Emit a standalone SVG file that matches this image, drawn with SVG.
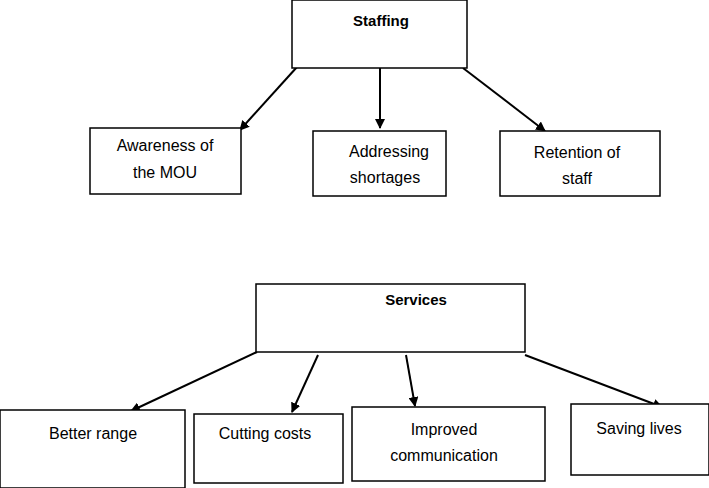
<svg xmlns="http://www.w3.org/2000/svg" width="709" height="488" viewBox="0 0 709 488">
<style>
.b{fill:#fff;stroke:#000;stroke-width:1.5}
.t{font-family:"Liberation Sans",Arial,sans-serif;font-size:16px;fill:#000;text-anchor:middle}
.h{font-weight:bold;font-size:15px}
.c{stroke:#000;stroke-width:2;fill:none;marker-end:url(#a)}
</style>
<defs><marker id="a" viewBox="0 0 10 10" refX="9" refY="5" markerWidth="5" markerHeight="5" orient="auto"><path d="M0,0L10,5L0,10z" fill="#000"/></marker></defs>
<rect width="709" height="488" fill="#fff"/>
<g id="connectors">
<line class="c" x1="297" y1="67" x2="240" y2="130"/>
<line class="c" x1="380" y1="68" x2="380" y2="128"/>
<line class="c" x1="463" y1="68" x2="545" y2="131"/>
<line class="c" x1="257" y1="352" x2="131" y2="411"/>
<line class="c" x1="318" y1="355" x2="292" y2="412"/>
<line class="c" x1="406" y1="355" x2="415" y2="406"/>
<line class="c" x1="525" y1="355" x2="662" y2="407"/>
</g>
<g id="staffing"><rect class="b" x="292" y="0" width="175" height="68"/><text class="t h" x="381" y="26">Staffing</text></g>
<g id="awareness"><rect class="b" x="90" y="128" width="151" height="66"/><text class="t" x="165" y="151">Awareness of</text><text class="t" x="165" y="178">the MOU</text></g>
<g id="addressing"><rect class="b" x="313" y="131" width="133" height="65"/><text class="t" x="389" y="157">Addressing</text><text class="t" x="385" y="183">shortages</text></g>
<g id="retention"><rect class="b" x="500" y="131" width="160" height="65"/><text class="t" x="577" y="158">Retention of</text><text class="t" x="577" y="184">staff</text></g>
<g id="services"><rect class="b" x="256" y="284" width="269" height="68"/><text class="t h" x="416" y="305">Services</text></g>
<g id="better"><rect class="b" x="0" y="410" width="185" height="78"/><text class="t" x="93" y="439">Better range</text></g>
<g id="cutting"><rect class="b" x="194" y="414" width="149" height="69"/><text class="t" x="265" y="439">Cutting costs</text></g>
<g id="improved"><rect class="b" x="352" y="407" width="193" height="74"/><text class="t" x="444" y="435">Improved</text><text class="t" x="444" y="461">communication</text></g>
<g id="saving"><rect class="b" x="571" y="404" width="138" height="71"/><text class="t" x="639" y="434">Saving lives</text></g>
</svg>
